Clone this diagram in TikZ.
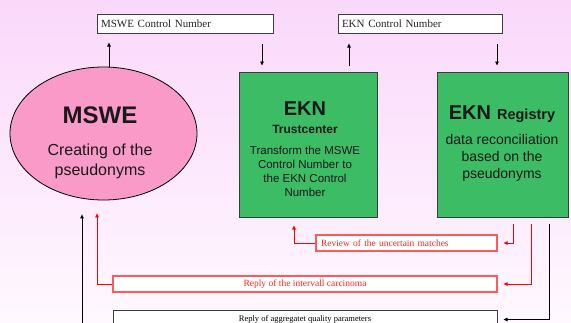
\documentclass[tikz,border=0pt]{standalone}
\usepackage{fontspec}
\setmainfont{Liberation Serif}
\newfontfamily\arialf{Liberation Sans}
\usetikzlibrary{shapes.geometric,arrows.meta}
\definecolor{pinkfill}{RGB}{249,154,200}
\definecolor{greenfill}{RGB}{60,188,100}
\definecolor{bgleft}{RGB}{250,216,250}
\definecolor{bgright}{RGB}{255,248,255}
\definecolor{redline}{RGB}{255,0,0}
\definecolor{redbox}{RGB}{255,90,90}
\definecolor{redtext}{RGB}{250,40,40}
\definecolor{boxline}{RGB}{60,60,60}
\tikzset{
  arr/.style={draw=black, line width=0.8pt, -{Triangle[length=4pt,width=3.5pt]}},
  redarr/.style={draw=redline, line width=0.8pt, -{Triangle[length=4pt,width=3.5pt]}},
  labelbox/.style={draw=boxline, line width=1pt, fill=white, inner sep=0pt, font=\fontsize{11}{13}\selectfont, text=black!85},
  redlabel/.style={draw=redbox, line width=1.1pt, fill=white, inner sep=0pt, font=\fontsize{9.5}{11}\selectfont, text=redtext},
  greenbox/.style={draw=boxline, line width=1pt, fill=greenfill, inner sep=0pt},
  txt/.style={inner sep=0pt, anchor=base, align=center, text=black!90}
}
\begin{document}
\begin{tikzpicture}[x=1pt,y=-1pt]
\useasboundingbox (0,0) rectangle (571,322);
\shade[left color=bgleft, right color=bgright, shading angle=0] (0,0) rectangle (571,322);
\begin{scope}
\clip (0,0) rectangle (571,322);
% main nodes
\node[ellipse, draw=black, line width=0.8pt, fill=pinkfill, minimum width=187, minimum height=133, inner sep=0pt] (mswe) at (103.5,133.5) {};
\node[greenbox, minimum width=138, minimum height=145] (tc) at (308,144.5) {};
\node[greenbox, minimum width=131, minimum height=145] (reg) at (502.5,144.5) {};
% texts (multi-line nodes: base = baseline of last line)
\node[txt, font=\arialf\bfseries\fontsize{24}{28}\selectfont] (mswet) at (100,123) {MSWE};
\node[txt, font=\arialf\fontsize{16}{20}\selectfont] (mswed) at (100,175) {Creating of the\\pseudonyms};
\node[txt, font=\arialf\bfseries\fontsize{20}{24}\selectfont] (tct) at (305,115) {EKN};
\node[txt, font=\arialf\bfseries\fontsize{12}{14}\selectfont] (tcs) at (305,133) {Trustcenter};
\node[txt, font=\arialf\fontsize{11.5}{14}\selectfont] (tcd) at (305,196) {Transform the MSWE\\Control Number to\\the EKN Control\\Number};
\node[txt, font=\arialf\bfseries] (regt) at (502,119) {{\fontsize{20}{24}\selectfont EKN}\hspace{6pt}{\fontsize{14.5}{17}\selectfont Registry}};
\node[txt, font=\arialf\fontsize{14}{16.8}\selectfont] (regd) at (502,178) {data reconciliation\\based on the\\pseudonyms};
% label boxes
\node[labelbox, minimum width=176, minimum height=19, text width=168, align=left] (mswecn) at (185,23.5) {MSWE Control Number};
\node[labelbox, minimum width=164, minimum height=19, text width=156, align=left] (ekncn) at (420,23.5) {EKN Control Number};
\node[redlabel, minimum width=181, minimum height=16, text width=171, align=left] (review) at (406.5,243) {Review of the uncertain matches};
\node[redlabel, minimum width=384, minimum height=16, align=center] (interval) at (305,284) {Reply of the intervall carcinoma};
\node[labelbox, minimum width=384, minimum height=18, font=\fontsize{8.5}{10}\selectfont, text=black] (aggr) at (305,319.5) {Reply of aggregatet quality parameters};
\coordinate (aggrfree) at (82,340);
% top connectors
\draw[arr, shorten >=9pt] ([xshift=5.5]mswe.north) -- ([xshift=-76]mswecn.south);
\draw[arr, shorten <=10pt, shorten >=6pt] ([xshift=77]mswecn.south) -- ([xshift=-46]tc.north);
\draw[arr, shorten <=6pt, shorten >=10pt] ([xshift=41]tc.north) -- ([xshift=-71]ekncn.south);
\draw[arr, shorten <=10pt, shorten >=6pt] ([xshift=77]ekncn.south) -- ([xshift=-5.5]reg.north);
% bottom connectors
\draw[redarr, shorten <=6pt, shorten >=6pt] ([xshift=10.5]reg.south) |- (review.east);
\draw[redarr, shorten >=8pt] (review.west) -| ([xshift=-14]tc.south);
\draw[redarr, shorten <=6pt, shorten >=6pt] ([xshift=28.5]reg.south) |- (interval.east);
\draw[redarr, shorten >=13pt] (interval.west) -| ([xshift=-6.5]mswe.south);
\draw[arr, shorten <=6pt, shorten >=6pt] ([xshift=46.5]reg.south) |- (aggr.east);
\draw[arr, shorten >=14pt] (aggrfree) -- ([xshift=-21.5]mswe.south);
\end{scope}
\end{tikzpicture}
\end{document}
